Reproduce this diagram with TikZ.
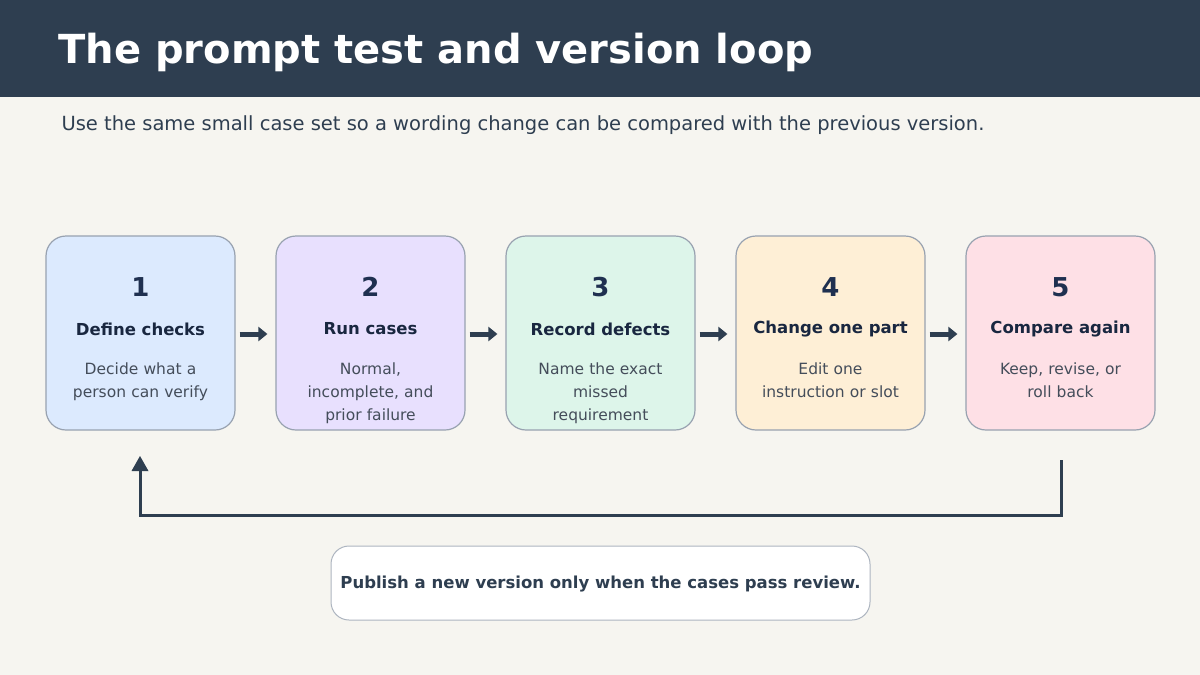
\documentclass[tikz,border=0pt]{standalone}
\usepackage{fontspec}
\setmainfont{DejaVu Sans}
\usetikzlibrary{arrows.meta}
\definecolor{dark}{HTML}{2E3E50}
\definecolor{bg}{HTML}{F6F5F0}
\definecolor{bord}{HTML}{98A2B0}
\definecolor{numc}{HTML}{1F3050}
\definecolor{desc}{HTML}{444D5A}
\definecolor{fa}{HTML}{DCEAFE}
\definecolor{fb}{HTML}{E8E0FE}
\definecolor{fc}{HTML}{DDF5EA}
\definecolor{fd}{HTML}{FEEFD6}
\definecolor{fe}{HTML}{FEE0E6}
\begin{document}
\begin{tikzpicture}[x=1pt,y=-1pt,
 box/.style={draw=bord,line width=1.2pt,rounded corners=20pt,minimum width=189pt,minimum height=194pt,inner sep=0pt},
 num/.style={font=\fontsize{26}{30}\selectfont\bfseries,text=numc},
 ttl/.style={font=\fontsize{16.5}{20}\selectfont\bfseries,text=numc!80!black},
 dsc/.style={font=\fontsize{15.5}{23}\selectfont,text=desc,align=center,text width=180pt},
 stepar/.style={draw=dark,line width=5pt,-{Triangle[length=9pt,width=14pt]}},
 loop/.style={draw=dark,line width=3pt}]
\fill[bg] (0,0) rectangle (1200,675);
\useasboundingbox (0,0) rectangle (1200,675);
\fill[dark] (0,0) rectangle (1200,97);
\node[anchor=base west,text=white,font=\fontsize{40}{46}\selectfont\bfseries] (title) at (55,63) {The prompt test and version loop};
\node[anchor=base west,text=dark,font=\fontsize{19.5}{24}\selectfont] (sub) at (58,130) {Use the same small case set so a wording change can be compared with the previous version.};
\foreach \i/\x/\f/\n/\t/\d in {1/140.5/fa/1/Define checks/{Decide what a\\person can verify},
 2/370.5/fb/2/Run cases/{Normal,\\incomplete, and\\prior failure},
 3/600.5/fc/3/Record defects/{Name the exact\\missed\\requirement},
 4/830.5/fd/4/Change one part/{Edit one\\instruction or slot},
 5/1060.5/fe/5/Compare again/{Keep, revise, or\\roll back}}{
 \node[box,fill=\f] (b\i) at (\x,333) {};
 \node[num] (n\i) at (\x,287) {\n};
 \node[ttl] (t\i) at (\x,329) {\t};
 \node[dsc,anchor=north] (d\i) at (\x,359) {\d};
}
\foreach \a/\b in {1/2,2/3,3/4,4/5}{\draw[stepar] ([xshift=4pt,yshift=-1pt]b\a.east) -- ([xshift=-8pt,yshift=-1pt]b\b.west);}
\coordinate (ls) at (1061,460);
\coordinate (le) at (140,456);
\draw[loop] (ls) -- (1061,515) -- (140,515) -- (140,470);
\fill[dark] (le) -- (131.5,471) -- (148.5,471) -- cycle;
\node[draw=bord!80,fill=white,line width=1pt,rounded corners=18pt,minimum width=539pt,minimum height=74pt] (pub) at (600.5,583) {};
\node[font=\fontsize{16.5}{20}\selectfont\bfseries,text=dark] (pt) at (600.5,584) {Publish a new version only when the cases pass review.};
\end{tikzpicture}
\end{document}
